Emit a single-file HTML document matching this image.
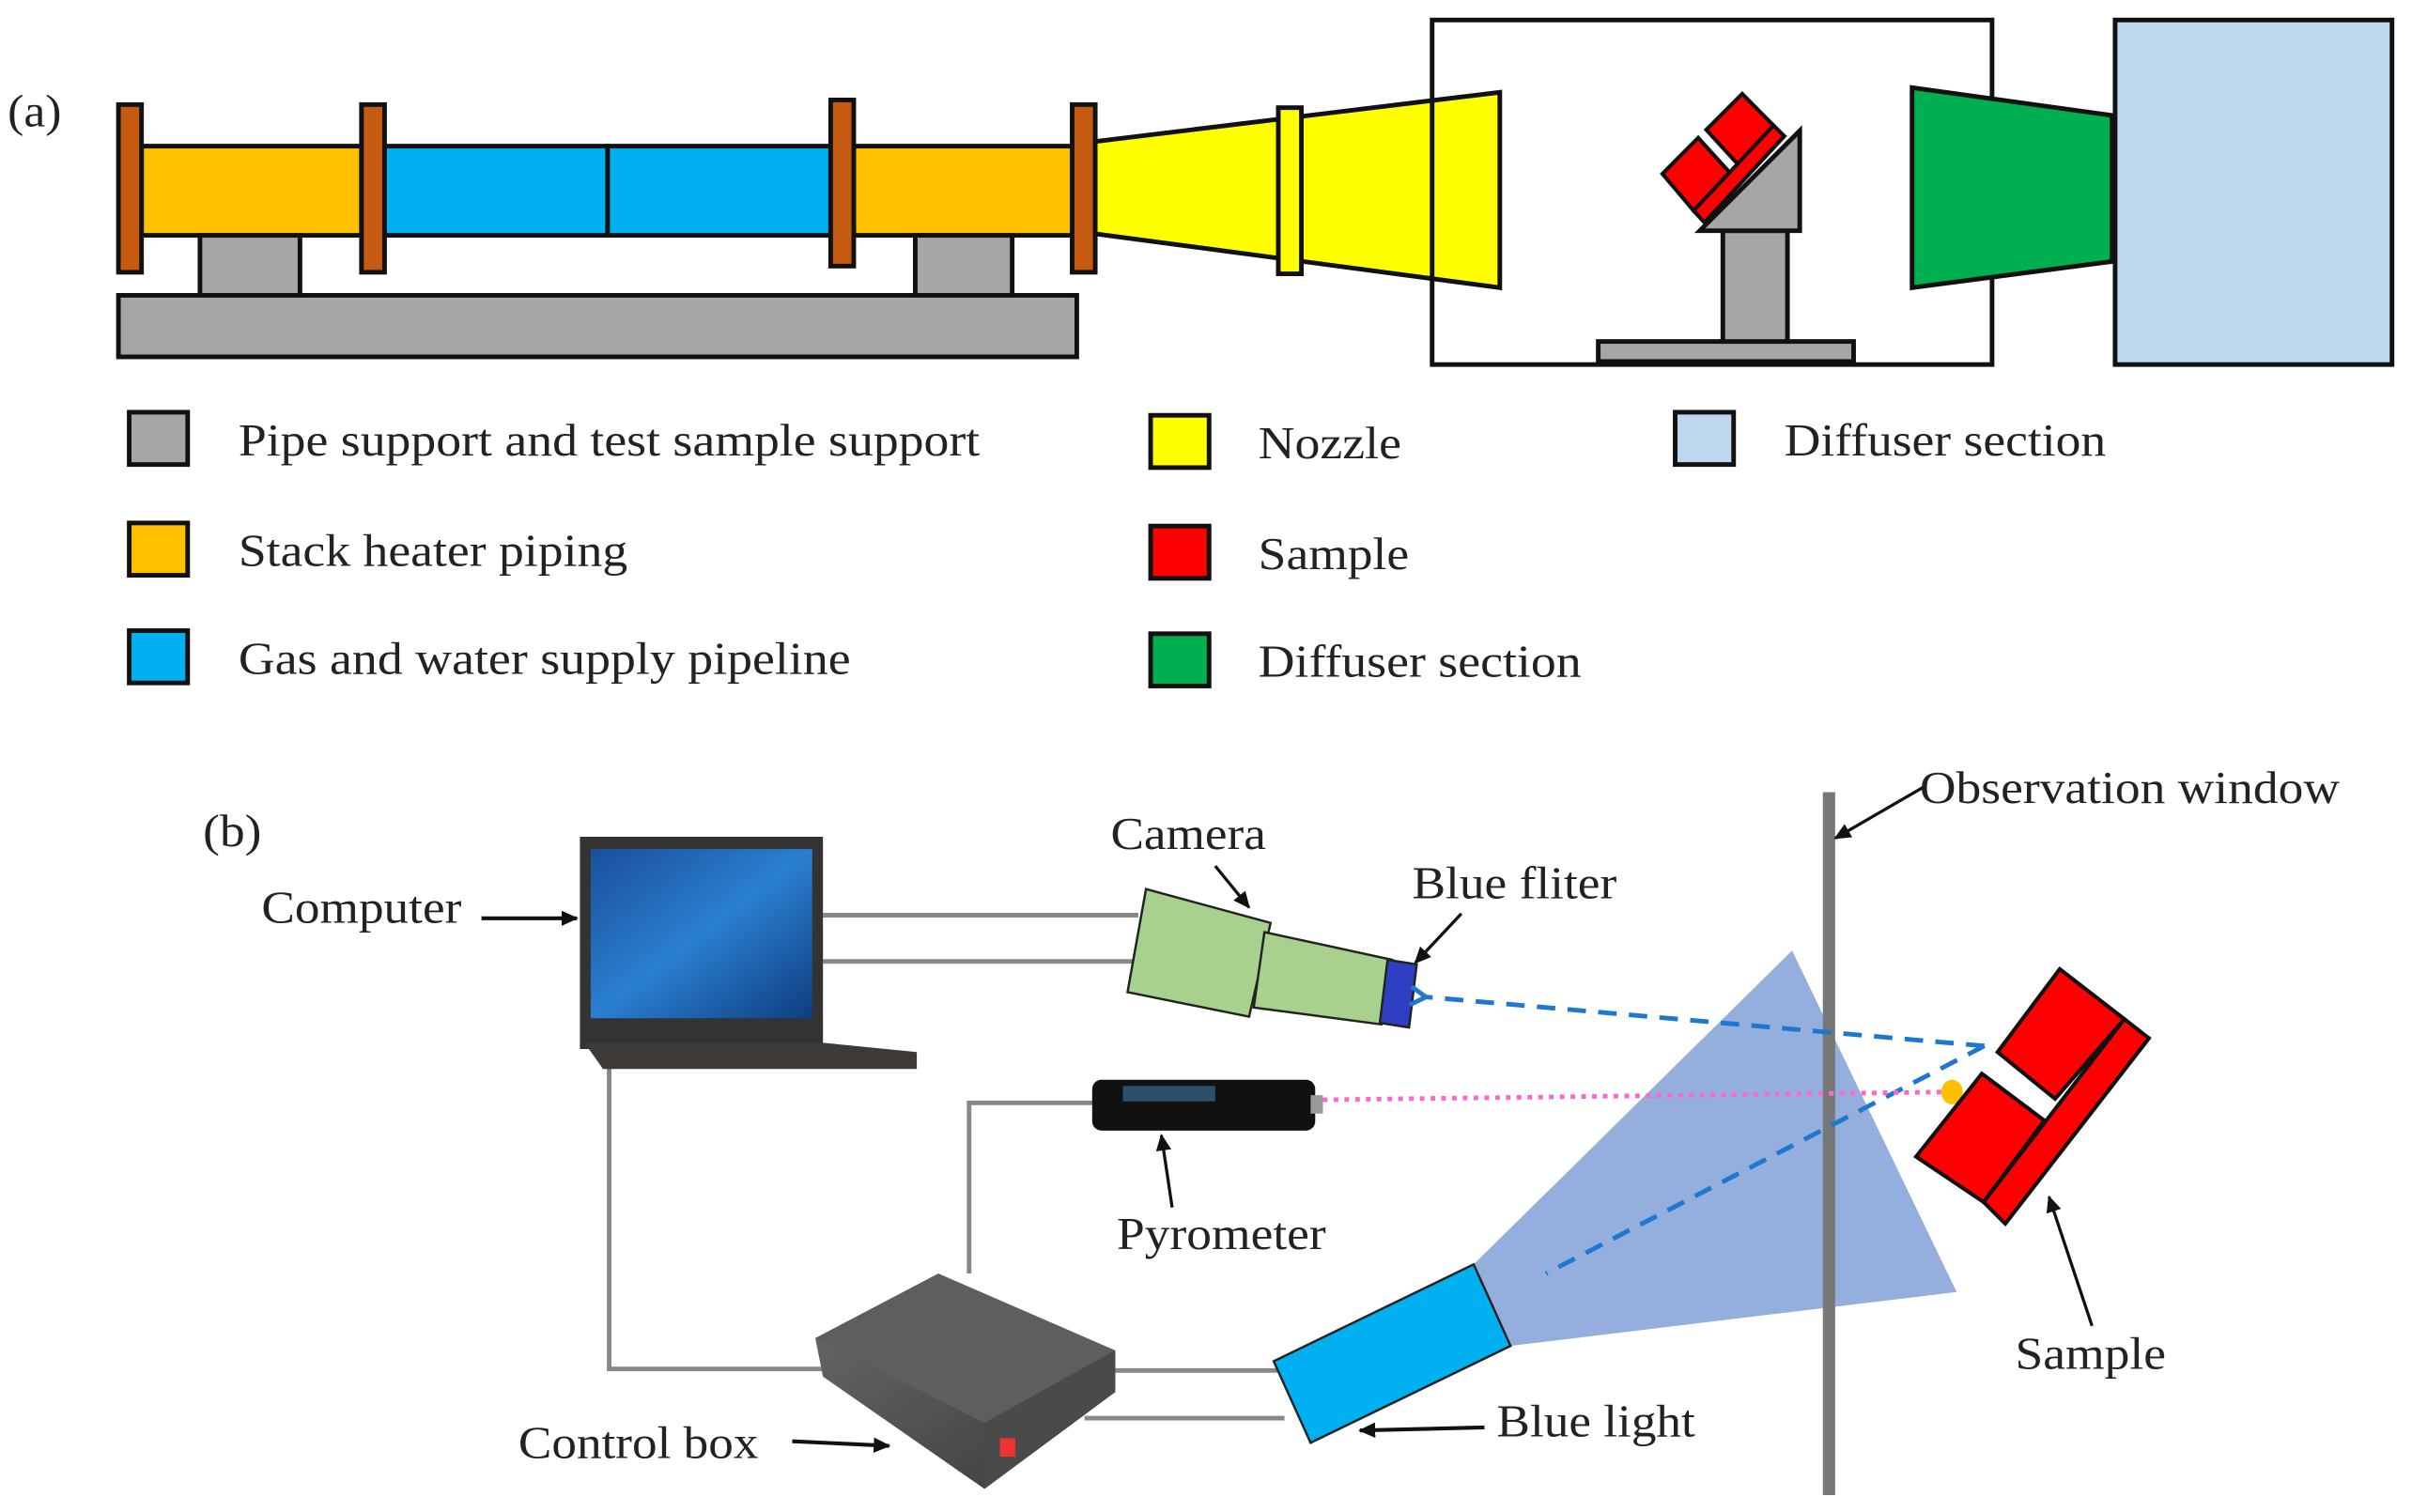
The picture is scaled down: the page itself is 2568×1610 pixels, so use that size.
<!DOCTYPE html>
<html><head><meta charset="utf-8"><style>
html,body{margin:0;padding:0;background:#fff;}
svg{display:block}
text{font-family:"Liberation Serif",serif;font-size:30px;fill:#222}
</style></head><body>
<svg width="2568" height="1610" viewBox="0 0 1568 983" preserveAspectRatio="none" xmlns="http://www.w3.org/2000/svg">
<defs>
<marker id="ah" markerWidth="12" markerHeight="12" refX="10" refY="6" orient="auto" markerUnits="userSpaceOnUse"><path d="M0,1 L11,6 L0,11 z" fill="#111"/></marker>
<marker id="bh" markerWidth="14" markerHeight="14" refX="4" refY="7" orient="auto" markerUnits="userSpaceOnUse"><path d="M12,1 L2,7 L12,13" fill="none" stroke="#1f78d0" stroke-width="3"/></marker>
<linearGradient id="scr" x1="0" y1="0" x2="1" y2="1"><stop offset="0" stop-color="#1b4f9c"/><stop offset="0.5" stop-color="#2a7fd0"/><stop offset="1" stop-color="#0f3d80"/></linearGradient>
<linearGradient id="box" x1="0" y1="0" x2="1" y2="1"><stop offset="0" stop-color="#6b6b6b"/><stop offset="1" stop-color="#3a3a3a"/></linearGradient>
</defs>
<!-- (a) -->
<text x="5" y="82" textLength="35" lengthAdjust="spacingAndGlyphs" font-size="26">(a)</text>
<g stroke="#111" stroke-width="3">
<rect x="92" y="95" width="143" height="58" fill="#ffc000"/>
<rect x="250" y="95" width="145" height="58" fill="#00b0f0"/>
<rect x="395" y="95" width="145" height="58" fill="#00b0f0"/>
<rect x="555" y="95" width="142" height="58" fill="#ffc000"/>
<rect x="130" y="153" width="65" height="39" fill="#a6a6a6"/>
<rect x="595" y="153" width="63" height="39" fill="#a6a6a6"/>
<rect x="77" y="192" width="623" height="40" fill="#a6a6a6"/>
<rect x="77" y="68" width="15" height="109" fill="#c55a11"/>
<rect x="235" y="68" width="15" height="109" fill="#c55a11"/>
<rect x="540" y="65" width="15" height="108" fill="#c55a11"/>
<rect x="697" y="68" width="15" height="109" fill="#c55a11"/>
<polygon points="712,92 975,60 975,187 712,152" fill="#ffff00"/>
<rect x="831" y="70" width="15" height="108" fill="#ffff00"/>
<rect x="931" y="13" width="364" height="224" fill="none"/>
<rect x="1039" y="222" width="166" height="13" fill="#a6a6a6"/>
<rect x="1120" y="150" width="42" height="72" fill="#a6a6a6"/>
<polygon points="1105,150 1170,85 1170,150" fill="#a6a6a6"/>
<g stroke-width="2.5" fill="#ff0000">
<polygon points="1132.6,61 1153,81.6 1129.6,106.6 1109.2,84.4"/>
<polygon points="1104,89.6 1124.4,112.1 1101,137 1080.7,113"/>
<polygon points="1153,81.6 1160,88.5 1108,144.7 1101,137"/>
</g>
<polygon points="1243,57 1373,75 1373,170 1243,187" fill="#00b050"/>
<rect x="1375" y="13" width="180" height="224" fill="#bdd7ee"/>
<!-- legend -->
<rect x="84" y="268" width="38" height="34" fill="#a6a6a6"/>
<rect x="84" y="340" width="38" height="34" fill="#ffc000"/>
<rect x="84" y="410" width="38" height="34" fill="#00b0f0"/>
<rect x="748" y="270" width="38" height="34" fill="#ffff00"/>
<rect x="748" y="342" width="38" height="34" fill="#ff0000"/>
<rect x="748" y="412" width="38" height="34" fill="#00b050"/>
<rect x="1089" y="268" width="38" height="34" fill="#bdd7ee"/>
</g>
<text x="155" y="296" textLength="482" lengthAdjust="spacingAndGlyphs">Pipe support and test sample support</text>
<text x="155" y="368" textLength="253" lengthAdjust="spacingAndGlyphs">Stack heater piping</text>
<text x="155" y="438" textLength="398" lengthAdjust="spacingAndGlyphs">Gas and water supply pipeline</text>
<text x="818" y="298" textLength="93" lengthAdjust="spacingAndGlyphs">Nozzle</text>
<text x="818" y="370" textLength="98" lengthAdjust="spacingAndGlyphs">Sample</text>
<text x="818" y="440" textLength="210" lengthAdjust="spacingAndGlyphs">Diffuser section</text>
<text x="1160" y="296" textLength="209" lengthAdjust="spacingAndGlyphs">Diffuser section</text>
<!-- (b) -->
<text x="132" y="550" textLength="38" lengthAdjust="spacingAndGlyphs" font-size="26">(b)</text>
<g stroke="#888" stroke-width="3" fill="none">
<line x1="535" y1="595" x2="740" y2="595"/>
<line x1="535" y1="625" x2="740" y2="625"/>
<polyline points="396,688 396,890 535,890"/>
<polyline points="712,717 630,717 630,828"/>
<line x1="720" y1="891" x2="835" y2="891"/>
<line x1="705" y1="922" x2="835" y2="922"/>
</g>
<polygon points="958,822 1165,618 1272,840 982,875" fill="#8eaadb" opacity="0.95"/>
<rect x="1185" y="515" width="8" height="457" fill="#777"/>
<!-- laptop -->
<rect x="377" y="544" width="158" height="138" fill="#333"/>
<rect x="384" y="552" width="144" height="110" fill="url(#scr)"/>
<polygon points="380,678 536,678 596,684 596,695 392,695" fill="#3d3a38"/>
<!-- camera -->
<g stroke="#222" stroke-width="1.5">
<polygon points="745,578 826,600 812,661 733,645" fill="#a9d18e"/>
<polygon points="822,606 905,624 898,666 815,655" fill="#a9d18e"/>
<polygon points="902,624 921,627 916,668 897,665" fill="#2e3fc4"/>
</g>
<!-- pyrometer -->
<rect x="710" y="702" width="145" height="33" rx="6" fill="#111"/>
<rect x="730" y="706" width="60" height="10" fill="#2d4f6a"/>
<rect x="852" y="712" width="8" height="12" fill="#999"/>
<!-- control box -->
<polygon points="530,870 610,828 725,878 725,905 640,968 535,895" fill="url(#box)"/>
<polygon points="530,870 610,828 725,878 640,925" fill="#5e5e5e"/>
<polygon points="640,925 725,878 725,905 640,968" fill="#4a4a4a"/>
<rect x="650" y="935" width="10" height="12" fill="#e33"/>
<!-- blue light -->
<polygon points="828,885 958,822 982,875 852,938" fill="#00b0f0" stroke="#222" stroke-width="1.5"/>
<!-- beams -->
<line x1="1290" y1="680" x2="925" y2="648" stroke="#1f78d0" stroke-width="3" stroke-dasharray="12,8" marker-end="url(#bh)"/>
<line x1="1290" y1="680" x2="1005" y2="828" stroke="#1f78d0" stroke-width="3" stroke-dasharray="12,8"/>
<line x1="860" y1="715" x2="1262" y2="710" stroke="#ff66cc" stroke-width="3" stroke-dasharray="3,4"/>
<ellipse cx="1269" cy="710" rx="7" ry="8" fill="#ffc000"/>
<!-- sample -->
<g stroke="#111" stroke-width="2.5" fill="#ff0000">
<polygon points="1339,630 1381,662.5 1336,714.4 1298.6,684"/>
<polygon points="1288.4,698 1329,728.5 1289.5,781.5 1245.6,752"/>
<polygon points="1381,662.5 1397,675 1303.6,795.6 1289.5,781.5"/>
</g>
<!-- labels -->
<text x="1248" y="522" textLength="273" lengthAdjust="spacingAndGlyphs">Observation window</text>
<line x1="1250" y1="512" x2="1193" y2="545" stroke="#111" stroke-width="2" marker-end="url(#ah)"/>
<text x="722" y="552" textLength="101" lengthAdjust="spacingAndGlyphs">Camera</text>
<line x1="790" y1="563" x2="812" y2="590" stroke="#111" stroke-width="2" marker-end="url(#ah)"/>
<text x="918" y="584" textLength="133" lengthAdjust="spacingAndGlyphs">Blue fliter</text>
<line x1="950" y1="594" x2="920" y2="626" stroke="#111" stroke-width="2" marker-end="url(#ah)"/>
<text x="170" y="600" textLength="130" lengthAdjust="spacingAndGlyphs">Computer</text>
<line x1="313" y1="597" x2="375" y2="597" stroke="#111" stroke-width="2.5" marker-end="url(#ah)"/>
<text x="726" y="812" textLength="136" lengthAdjust="spacingAndGlyphs">Pyrometer</text>
<line x1="762" y1="785" x2="755" y2="738" stroke="#111" stroke-width="2" marker-end="url(#ah)"/>
<text x="1310" y="890" textLength="98" lengthAdjust="spacingAndGlyphs">Sample</text>
<line x1="1360" y1="862" x2="1332" y2="778" stroke="#111" stroke-width="2" marker-end="url(#ah)"/>
<text x="973" y="934" textLength="129" lengthAdjust="spacingAndGlyphs">Blue light</text>
<line x1="965" y1="928" x2="884" y2="930" stroke="#111" stroke-width="2.5" marker-end="url(#ah)"/>
<text x="337" y="948" textLength="156" lengthAdjust="spacingAndGlyphs">Control box</text>
<line x1="515" y1="937" x2="578" y2="940" stroke="#111" stroke-width="2.5" marker-end="url(#ah)"/>
</svg>
</body></html>
